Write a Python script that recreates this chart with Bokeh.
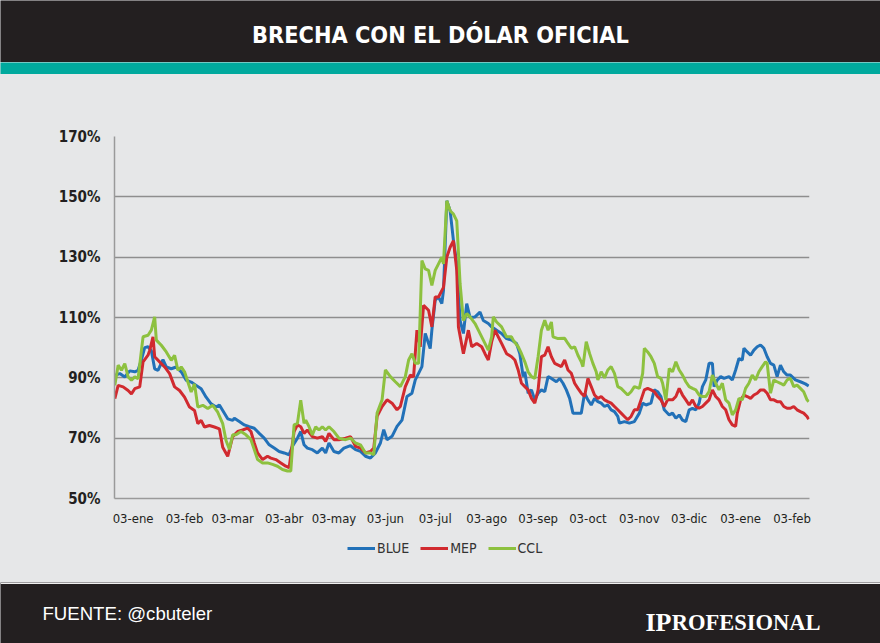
import pandas as pd
from bokeh.plotting import figure
from bokeh.models import Range1d, FixedTicker, Legend, LegendItem, Label, Span
from bokeh.layouts import column
from bokeh.embed import file_html
from bokeh.resources import INLINE

# ---------------- data ----------------
titulo = "BRECHA CON EL DÓLAR OFICIAL"
fuente = "FUENTE: @cbuteler"
marca_a = "IP"
marca_b = "ROFESIONAL"

series_names = ["BLUE", "MEP", "CCL"]

tick_fechas = ["2020-01-03", "2020-02-03", "2020-03-03", "2020-04-03", "2020-05-03",
               "2020-06-03", "2020-07-03", "2020-08-03", "2020-09-03", "2020-10-03",
               "2020-11-03", "2020-12-03", "2021-01-03", "2021-02-03"]
tick_labels = ["03-ene", "03-feb", "03-mar", "03-abr", "03-may", "03-jun", "03-jul",
               "03-ago", "03-sep", "03-oct", "03-nov", "03-dic", "03-ene", "03-feb"]
y_ticks = [50, 70, 90, 110, 130, 150, 170]

# days since 2020-01-01
blue_dia = [-9, -6, -3, 0, 3, 5, 7, 9, 11, 13, 15, 17, 20, 22, 25, 28, 31, 34, 37, 40,
            43, 46, 49, 52, 54, 56, 59, 62, 63, 66, 69, 72, 75, 78, 81, 84, 87, 90, 93, 96,
            98, 101, 103, 105, 107, 110, 113, 116, 118, 120, 123, 126, 129, 133, 136, 139, 142, 145, 148, 151,
            153, 155, 158, 161, 164, 167, 170, 172, 174, 176, 178, 181, 182, 184, 186, 188, 189, 191, 193, 195,
            197, 199, 201, 203, 205, 208, 211, 213, 216, 218, 221, 224, 227, 230, 233, 235, 237, 238, 240, 242,
            244, 246, 248, 250, 252, 254, 257, 259, 261, 263, 265, 267, 270, 272, 274, 276, 278, 280, 282, 284,
            286, 288, 290, 292, 294, 295, 298, 301, 304, 307, 309, 311, 314, 316, 318, 320, 322, 325, 327, 329,
            331, 333, 335, 337, 339, 341, 343, 345, 347, 349, 351, 352, 354, 356, 358, 361, 363, 365, 367, 369,
            370, 372, 374, 376, 378, 380, 382, 384, 386, 388, 390, 392, 394, 396, 398, 401, 404, 407, 409]
blue_val = [90.8, 91.4, 90.3, 92.3, 92, 92.5, 96, 100, 100.3, 99, 93, 92.5, 96, 93.6, 93, 93.6, 92, 89.2, 88.6, 87.5,
            86.4, 83.6, 81.4, 80.3, 81, 79.2, 76.4, 75.9, 76.6, 75.5, 74.4, 73.8, 73.3, 71.6, 70, 67.8, 66.7, 65.6, 65.1, 64.5,
            67.3, 70, 72.2, 67.8, 66.7, 66.2, 65.1, 66.7, 65.1, 68.4, 65.6, 65.1, 66.7, 67.5, 66.2, 65.6, 64, 63.4, 65.1, 68.4,
            72.8, 69.5, 70.6, 73.9, 76, 83.8, 84.9, 89.3, 91.5, 93.7, 104.7, 99.7, 105.8, 115.7, 116.8, 114.6, 119, 148.7, 145.4, 135.5,
            127.8, 109, 104.7, 114.6, 110, 110.2, 111.8, 109, 108, 106.9, 105.8, 104.7, 103, 102.5, 101.4, 98, 90.4, 92, 84.9, 86,
            82.7, 84.9, 86, 85.4, 90.4, 89.8, 88.7, 89.8, 88.2, 86, 83.2, 78.3, 78.3, 78.3, 84.9, 82.7, 81, 83.2, 82.1, 81.6,
            80.5, 81, 79.4, 78.8, 77.2, 75, 75.5, 75, 75.5, 78.3, 81.6, 81, 81.6, 86, 85.4, 83.8, 79.4, 77.7, 78.3, 76.6,
            77.7, 76, 75.5, 79.4, 79.9, 79.4, 81.6, 87.1, 89.3, 94.8, 94.8, 87.1, 89.3, 90.4, 89.8, 90.4, 89.3, 92.6, 96.4, 95.9,
            99.8, 98.6, 97.5, 99.2, 100.3, 100.9, 99.8, 97, 94.8, 94.2, 90.4, 94.2, 92, 90.9, 90.9, 89.3, 88.7, 88, 87.3]

mep_dia = [-9, -7, -4, -1, 1, 3, 6, 8, 11, 12, 14, 15, 18, 21, 24, 27, 30, 33, 36, 39,
           41, 43, 45, 48, 51, 54, 56, 59, 62, 65, 68, 71, 73, 75, 77, 80, 83, 85, 88, 91,
           94, 96, 99, 101, 103, 105, 107, 110, 113, 116, 118, 120, 123, 126, 130, 133, 136, 139, 142, 145,
           147, 149, 152, 155, 158, 161, 163, 166, 169, 171, 173, 175, 177, 180, 182, 184, 186, 189, 191, 193,
           195, 197, 198, 201, 204, 206, 209, 212, 214, 216, 218, 220, 222, 224, 227, 230, 232, 234, 236, 238,
           240, 242, 244, 246, 248, 250, 252, 254, 256, 260, 262, 264, 266, 268, 270, 272, 274, 276, 278, 280,
           282, 284, 286, 288, 290, 292, 294, 296, 298, 300, 302, 304, 306, 308, 310, 312, 314, 316, 318, 320,
           322, 324, 327, 329, 331, 333, 335, 337, 339, 341, 343, 345, 347, 349, 351, 353, 355, 357, 359, 361,
           363, 365, 366, 368, 370, 372, 374, 376, 378, 380, 382, 384, 386, 388, 390, 392, 394, 396, 398, 400,
           402, 404, 406, 408, 409]
mep_val = [83.1, 87.5, 87, 85.8, 84.7, 86.4, 87, 95.3, 97.5, 99.1, 103.6, 97, 95.3, 93.6, 91.4, 87, 85.8, 83.6, 80.3, 79.2,
           74.8, 75.9, 73.7, 74.2, 73.7, 73.1, 67, 64, 70.5, 72.2, 72.7, 73.3, 72.2, 68.4, 65.1, 62.9, 64, 63.4, 62.9, 61.8,
           60.7, 60.2, 72.2, 74.4, 73.8, 71.6, 72.7, 70.5, 70, 70.5, 68.9, 71.6, 69.5, 69.5, 70, 70.5, 67.3, 66.7, 65.1, 65.6,
           66.7, 77.2, 80.5, 82.7, 81.6, 79.4, 80.5, 87.1, 90.9, 90.4, 105.8, 100.3, 114, 112.4, 106.9, 116.8, 116.8, 120, 130, 133.3,
           135.5, 125.6, 106.9, 98, 105.8, 100.3, 101.4, 100.3, 98, 95.9, 101.9, 105.8, 103.6, 101.4, 98, 97, 95.9, 92.6, 88.2, 87.1,
           86, 83.2, 81.6, 86, 97, 97.5, 100.3, 97, 94.8, 93.7, 95.9, 92.6, 91.5, 88.2, 86.5, 84.9, 83.8, 89.8, 87.1, 84.3,
           83.2, 83.8, 82.7, 82.1, 81.6, 80.5, 79.4, 78.3, 77.2, 76.1, 77.2, 79.4, 79.4, 82.7, 86, 86.5, 86, 85.4, 83.8, 82.7,
           80.5, 82.7, 82.7, 83.8, 86.5, 84.3, 82.7, 81, 82.7, 80.5, 79.9, 80.5, 81.6, 82.7, 86, 83.8, 82.7, 80.5, 79.4, 76.1,
           74.4, 73.9, 78.3, 82.7, 84.3, 83.8, 83.2, 84.3, 84.9, 86, 86, 84.9, 82.7, 82.7, 82.1, 82.1, 80.5, 79.9, 79.9, 80.5,
           79.4, 78.8, 78.3, 77.2, 76.3]

ccl_dia = [-9, -7, -5, -3, -1, 1, 3, 5, 8, 11, 13, 15, 16, 19, 22, 25, 27, 29, 31, 33,
           35, 37, 39, 41, 44, 47, 50, 53, 56, 58, 60, 62, 64, 67, 70, 73, 75, 77, 80, 83,
           86, 89, 92, 95, 97, 99, 101, 103, 105, 106, 108, 110, 112, 114, 116, 118, 120, 123, 126, 130,
           133, 136, 139, 142, 145, 147, 149, 152, 154, 157, 160, 163, 166, 168, 170, 172, 174, 176, 178, 180,
           182, 184, 186, 188, 189, 191, 193, 195, 197, 199, 201, 203, 205, 208, 210, 213, 216, 218, 219, 221,
           224, 227, 230, 231, 234, 236, 238, 240, 242, 244, 246, 248, 250, 252, 254, 255, 258, 262, 264, 266,
           268, 270, 272, 273, 275, 277, 279, 281, 282, 284, 286, 288, 290, 292, 294, 296, 298, 300, 302, 304,
           307, 309, 310, 312, 314, 316, 318, 320, 321, 323, 325, 327, 329, 331, 333, 335, 337, 339, 341, 343,
           345, 347, 349, 351, 353, 355, 357, 359, 361, 363, 365, 367, 369, 371, 373, 375, 377, 379, 381, 383,
           384, 386, 388, 390, 392, 394, 396, 398, 400, 402, 404, 406, 408, 409]
ccl_val = [87.5, 94.2, 92.5, 94.7, 90.3, 89.2, 90.3, 89.7, 103.6, 104.1, 105.8, 110.2, 102.5, 100.8, 98.6, 95.8, 97.5, 92.5, 93.6, 92,
           88.6, 85.3, 88, 80.3, 80.9, 79.8, 80.9, 78.6, 74.8, 69.2, 66.3, 71.1, 71.1, 72.2, 71.1, 69.5, 66.2, 62.9, 61.8, 61.8,
           61.3, 60.7, 59.6, 59.1, 59.1, 74.4, 74.9, 82.6, 74.9, 76, 73.8, 71.1, 73.8, 72.7, 73.8, 72.7, 73.8, 72.2, 70, 69.5,
           70, 68.4, 67.8, 65.1, 65.1, 64.5, 78.3, 82.7, 92.6, 90.4, 88.7, 87.1, 90.4, 95.9, 98, 94.8, 94.8, 128.9, 126.1, 125.6,
           120.6, 125.6, 127.8, 130, 127.8, 148.7, 145.4, 144.3, 142, 121.2, 109, 111.3, 110.2, 108, 105.8, 102.5, 99.2, 103.6, 110.2, 108.5,
           106.9, 103.6, 103.6, 102.5, 100.3, 98, 95.3, 92, 90.4, 89.8, 97, 105.8, 109.1, 105.8, 108.5, 103.6, 103, 103.1, 101.4, 99.8,
           100.3, 97.5, 95.3, 93.7, 102, 98.1, 94.8, 92, 89.3, 92, 90, 92.6, 93.7, 91.5, 87.1, 86.5, 85.4, 84.3, 85.4, 87.1,
           86.5, 91.5, 99.8, 98.6, 97, 94.8, 90.4, 89.8, 88.2, 82.7, 93.1, 92, 95.3, 92.6, 90.9, 88.7, 87.1, 86.5, 86, 84.3,
           83.8, 83.8, 85.4, 90.9, 88.2, 86, 88.2, 82.7, 81.6, 77.7, 79.4, 83.2, 82.7, 86.5, 88.2, 90.9, 89.3, 92, 93.7, 95.3,
           94.8, 84.9, 89.3, 88.7, 88.2, 87.6, 89.3, 89.8, 87.1, 87.6, 86.5, 85.4, 82.7, 82.1]

# ---------------- styling ----------------
W = 880
BG = "#e6e7e8"
DARK = "#231f20"
TEAL = "#00a99d"
COLORS = ["#2271b8", "#d12a2f", "#8dc13f"]
COND = "'Liberation Sans Narrow', 'DejaVu Sans Condensed', 'Roboto Condensed', sans-serif"

origen = pd.Timestamp("2020-01-01")
tick_dias = [(pd.Timestamp(f) - origen).days for f in tick_fechas]
series = [(blue_dia, blue_val), (mep_dia, mep_val), (ccl_dia, ccl_val)]


def blank(h, color, xr=None, yr=None):
    f = figure(width=W, height=h,
               x_range=xr if xr is not None else Range1d(0, W),
               y_range=yr if yr is not None else Range1d(0, h),
               x_axis_type=None, y_axis_type=None, toolbar_location=None,
               output_backend="svg", min_border=0)
    f.background_fill_color = color
    f.border_fill_color = color
    f.outline_line_color = None
    f.frame_align = False
    return f


# header
head = blank(62, DARK)
head.add_layout(Label(x=440, y=28, text=titulo, text_align="center", text_baseline="middle",
                      text_color="white", text_font_size="23.3px", text_font_style="bold",
                      text_font=COND))

band = blank(12, TEAL)

# main chart
p = figure(width=W, height=458, x_range=Range1d(-9.2, 409.5), y_range=Range1d(50, 170),
           toolbar_location=None, output_backend="svg",
           min_border_left=114, min_border_right=71, min_border_top=62, min_border_bottom=34)
p.frame_align = False
p.background_fill_color = BG
p.border_fill_color = BG
p.outline_line_color = None

p.xgrid.grid_line_color = None
p.ygrid.ticker = FixedTicker(ticks=y_ticks)
p.ygrid.grid_line_color = "#8e8e8e"
p.ygrid.grid_line_width = 1.5

p.yaxis.ticker = FixedTicker(ticks=y_ticks)
p.yaxis.major_label_overrides = {v: f"{v}%" for v in y_ticks}
p.xaxis.ticker = FixedTicker(ticks=tick_dias)
p.xaxis.major_label_overrides = {d: l for d, l in zip(tick_dias, tick_labels)}

for ax in (p.xaxis, p.yaxis):
    ax.axis_line_color = "#9a9a9a"
    ax.axis_line_width = 1.5
    ax.major_tick_line_color = None
    ax.minor_tick_line_color = None
    ax.major_tick_out = 0
    ax.major_tick_in = 0
    ax.major_label_text_color = DARK
    ax.major_label_text_font = COND

p.yaxis.major_label_text_font_size = "15px"
p.yaxis.major_label_text_font_style = "bold"
p.yaxis.major_label_standoff = 14
p.xaxis.major_label_text_font_size = "13px"
p.xaxis.major_label_standoff = 12

for (dias, vals), col in zip(series, COLORS):
    p.line(dias, vals, line_color=col, line_width=3)

# legend strip (same series, drawn in a strip whose value range hides the lines)
leg = blank(50, BG, xr=Range1d(-9.2, 409.5), yr=Range1d(0, 1))
items = []
for (dias, vals), col, name in zip(series, COLORS, series_names):
    r = leg.line(dias, vals, line_color=col, line_width=3)
    items.append(LegendItem(label=name, renderers=[r]))
legend = Legend(items=items, orientation="horizontal", location=(347, 26),
                glyph_width=28, glyph_height=14, label_standoff=2, spacing=11,
                padding=0, margin=0, background_fill_alpha=0, border_line_alpha=0,
                label_text_font_size="14px", label_text_color="#333333",
                label_text_font=COND)
leg.add_layout(legend, "center")

# footer
foot = blank(61, DARK)
foot.add_layout(Span(location=60.3, dimension="width", line_color="#f0f0f0", line_width=1.5))
foot.add_layout(Label(x=42, y=30, text=fuente, text_baseline="middle", text_color="white",
                      text_font_size="18.6px", text_font="'Liberation Sans', Arial, sans-serif"))
foot.add_layout(Label(x=820, y=21, text=marca_b, text_align="right", text_baseline="alphabetic",
                      text_color="white", text_font_size="22.5px", text_font_style="bold",
                      text_font="'Liberation Serif', serif"))
foot.add_layout(Label(x=671, y=21, text=marca_a, text_align="right", text_baseline="alphabetic",
                      text_color="white", text_font_size="26px", text_font_style="bold",
                      text_font="'Liberation Serif', serif"))

layout = column(head, band, p, leg, foot, styles={"background-color": BG})
open("out.html", "w").write(file_html(layout, INLINE))
